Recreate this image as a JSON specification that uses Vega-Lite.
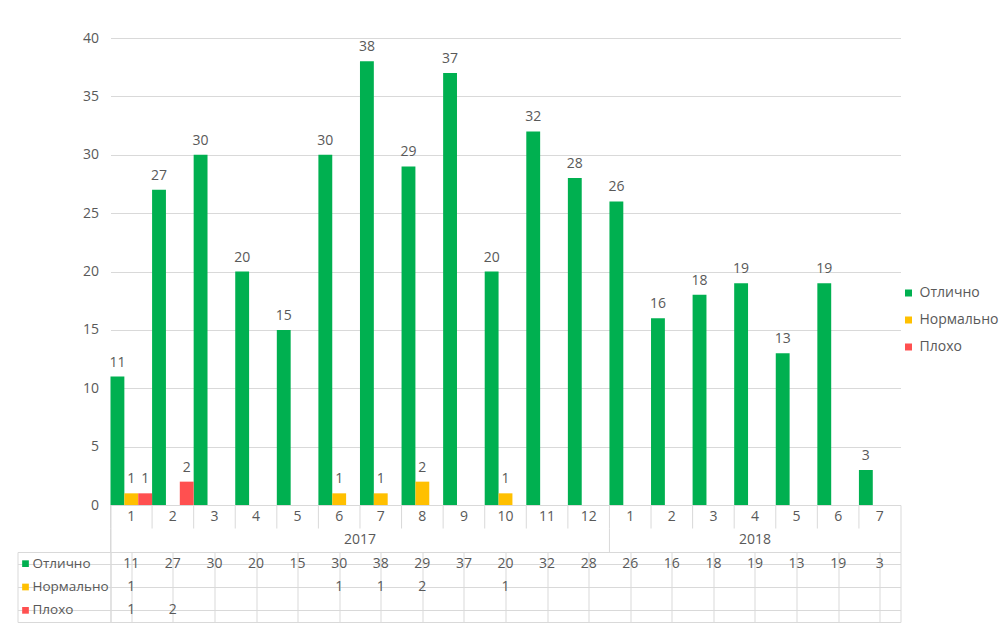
{
  "$schema": "https://vega.github.io/schema/vega-lite/v6.json",
  "padding": {"left": 16.5, "top": 17, "right": 0, "bottom": 0},
  "datasets": {
    "d": [
      {"key": "2017-1", "year": "2017", "month": "1", "series": "Отлично", "value": 11},
      {"key": "2017-2", "year": "2017", "month": "2", "series": "Отлично", "value": 27},
      {"key": "2017-3", "year": "2017", "month": "3", "series": "Отлично", "value": 30},
      {"key": "2017-4", "year": "2017", "month": "4", "series": "Отлично", "value": 20},
      {"key": "2017-5", "year": "2017", "month": "5", "series": "Отлично", "value": 15},
      {"key": "2017-6", "year": "2017", "month": "6", "series": "Отлично", "value": 30},
      {"key": "2017-7", "year": "2017", "month": "7", "series": "Отлично", "value": 38},
      {"key": "2017-8", "year": "2017", "month": "8", "series": "Отлично", "value": 29},
      {"key": "2017-9", "year": "2017", "month": "9", "series": "Отлично", "value": 37},
      {"key": "2017-10", "year": "2017", "month": "10", "series": "Отлично", "value": 20},
      {"key": "2017-11", "year": "2017", "month": "11", "series": "Отлично", "value": 32},
      {"key": "2017-12", "year": "2017", "month": "12", "series": "Отлично", "value": 28},
      {"key": "2018-1", "year": "2018", "month": "1", "series": "Отлично", "value": 26},
      {"key": "2018-2", "year": "2018", "month": "2", "series": "Отлично", "value": 16},
      {"key": "2018-3", "year": "2018", "month": "3", "series": "Отлично", "value": 18},
      {"key": "2018-4", "year": "2018", "month": "4", "series": "Отлично", "value": 19},
      {"key": "2018-5", "year": "2018", "month": "5", "series": "Отлично", "value": 13},
      {"key": "2018-6", "year": "2018", "month": "6", "series": "Отлично", "value": 19},
      {"key": "2018-7", "year": "2018", "month": "7", "series": "Отлично", "value": 3},
      {"key": "2017-1", "year": "2017", "month": "1", "series": "Нормально", "value": 1},
      {"key": "2017-6", "year": "2017", "month": "6", "series": "Нормально", "value": 1},
      {"key": "2017-7", "year": "2017", "month": "7", "series": "Нормально", "value": 1},
      {"key": "2017-8", "year": "2017", "month": "8", "series": "Нормально", "value": 2},
      {"key": "2017-10", "year": "2017", "month": "10", "series": "Нормально", "value": 1},
      {"key": "2017-1", "year": "2017", "month": "1", "series": "Плохо", "value": 1},
      {"key": "2017-2", "year": "2017", "month": "2", "series": "Плохо", "value": 2}
    ]
  },
  "columns": 2,
  "spacing": 0,
  "bounds": "flush",
  "align": "each",
  "config": {
    "view": {"stroke": null},
    "font": "Open Sans",
    "text": {"font": "Open Sans", "fontSize": 14, "color": "#595959"},
    "axis": {"labelFont": "Open Sans", "labelFontSize": 14, "labelColor": "#595959", "gridColor": "#d9d9d9"},
    "legend": {"labelFont": "Open Sans", "labelFontSize": 14, "labelColor": "#595959", "layout": {"right": {"anchor": "middle"}}}
  },
  "concat": [
    {"width": 93, "height": 467, "data": {"values": []}, "mark": "point"},
    {
      "width": 790,
      "height": 467,
      "data": {"name": "d"},
      "encoding": {
        "x": {"field": "key", "type": "nominal", "scale": {"domain": ["2017-1","2017-2","2017-3","2017-4","2017-5","2017-6","2017-7","2017-8","2017-9","2017-10","2017-11","2017-12","2018-1","2018-2","2018-3","2018-4","2018-5","2018-6","2018-7"], "paddingInner": 0, "paddingOuter": 0}, "axis": null},
        "xOffset": {"field": "series", "type": "nominal", "scale": {"domain": ["Отлично", "Нормально", "Плохо"], "paddingInner": 0, "paddingOuter": 0}},
        "y": {"field": "value", "type": "quantitative", "scale": {"domain": [0, 40], "nice": false}, "axis": {"values": [0, 5, 10, 15, 20, 25, 30, 35, 40], "title": ".", "titleAngle": 0, "titleAlign": "right", "titleBaseline": "top", "titleX": -20, "titleY": -21, "titleFontSize": 11, "titleOpacity": 0, "domain": false, "ticks": false, "labelPadding": 12, "grid": true}}
      },
      "layer": [
        {
          "mark": {"type": "bar"},
          "encoding": {
            "color": {"field": "series", "type": "nominal", "scale": {"domain": ["Отлично", "Нормально", "Плохо"], "range": ["#00b050", "#ffc000", "#ff5050"]}, "legend": {"title": null, "orient": "right", "symbolType": "square", "symbolSize": 49, "offset": 0, "rowPadding": 13, "labelOffset": 4}}
          }
        },
        {
          "mark": {"type": "text", "baseline": "middle", "dy": -14},
          "encoding": {"text": {"field": "value", "type": "quantitative"}}
        }
      ]
    },
    {"width": 93, "height": 47, "data": {"values": []}, "mark": "point"},
    {
      "width": 790,
      "height": 47,
      "view": {"stroke": "#d9d9d9"},
      "data": {"name": "d"},
      "transform": [{"filter": "datum.series === 'Отлично'"}],
      "encoding": {
        "x": {"field": "key", "type": "nominal", "scale": {"domain": ["2017-1","2017-2","2017-3","2017-4","2017-5","2017-6","2017-7","2017-8","2017-9","2017-10","2017-11","2017-12","2018-1","2018-2","2018-3","2018-4","2018-5","2018-6","2018-7"], "paddingInner": 0, "paddingOuter": 0}, "axis": null}
      },
      "layer": [
        {
          "mark": {"type": "text"},
          "encoding": {
            "y": {"datum": "m", "type": "nominal", "scale": {"domain": ["m", "y"], "paddingInner": 0, "paddingOuter": 0}, "axis": null},
            "text": {"field": "month"}
          }
        },
        {
          "mark": {"type": "tick", "orient": "vertical", "size": 23.5, "thickness": 1, "color": "#d9d9d9", "opacity": 1},
          "encoding": {
            "x": {"field": "key", "type": "nominal", "bandPosition": 0, "axis": null},
            "y": {"datum": "m", "type": "nominal", "axis": null}
          }
        },
        {
          "transform": [{"filter": "datum.month === '1'"}],
          "mark": {"type": "tick", "orient": "vertical", "size": 23.5, "thickness": 1, "color": "#d9d9d9", "opacity": 1},
          "encoding": {
            "x": {"field": "key", "type": "nominal", "bandPosition": 0, "axis": null},
            "y": {"datum": "y", "type": "nominal", "axis": null}
          }
        },
        {
          "transform": [{"filter": "datum.key === '2017-6'"}],
          "mark": {"type": "text"},
          "encoding": {
            "x": {"field": "key", "type": "nominal", "bandPosition": 1, "axis": null},
            "y": {"datum": "y", "type": "nominal", "axis": null},
            "text": {"field": "year"}
          }
        },
        {
          "transform": [{"filter": "datum.key === '2018-4'"}],
          "mark": {"type": "text"},
          "encoding": {
            "y": {"datum": "y", "type": "nominal", "axis": null},
            "text": {"field": "year"}
          }
        }
      ]
    },
    {
      "width": 93,
      "height": 70,
      "view": {"stroke": "#d9d9d9"},
      "data": {"name": "d"},
      "transform": [{"filter": "datum.key === '2017-1'"}],
      "encoding": {
        "y": {"field": "series", "type": "nominal", "scale": {"domain": ["Отлично", "Нормально", "Плохо"], "paddingInner": 0, "paddingOuter": 0}, "axis": {"grid": true, "bandPosition": 0, "labels": false, "ticks": false, "domain": false, "title": null}}
      },
      "layer": [
        {
          "mark": {"type": "square", "size": 45, "opacity": 1, "xOffset": -38.5},
          "encoding": {"color": {"field": "series", "type": "nominal", "scale": {"domain": ["Отлично", "Нормально", "Плохо"], "range": ["#00b050", "#ffc000", "#ff5050"]}, "legend": null}}
        },
        {
          "mark": {"type": "text", "align": "left", "dx": -31.5, "fontSize": 13.5},
          "encoding": {"text": {"field": "series"}}
        }
      ]
    },
    {
      "width": 790,
      "height": 70,
      "view": {"stroke": "#d9d9d9"},
      "data": {"name": "d"},
      "mark": {"type": "text"},
      "encoding": {
        "x": {"field": "key", "type": "nominal", "scale": {"domain": ["2017-1","2017-2","2017-3","2017-4","2017-5","2017-6","2017-7","2017-8","2017-9","2017-10","2017-11","2017-12","2018-1","2018-2","2018-3","2018-4","2018-5","2018-6","2018-7"], "paddingInner": 0, "paddingOuter": 0}, "axis": {"grid": true, "bandPosition": 0, "labels": false, "ticks": false, "domain": false, "title": null}},
        "y": {"field": "series", "type": "nominal", "scale": {"domain": ["Отлично", "Нормально", "Плохо"], "paddingInner": 0, "paddingOuter": 0}, "axis": {"grid": true, "bandPosition": 0, "labels": false, "ticks": false, "domain": false, "title": null}},
        "text": {"field": "value", "type": "quantitative"}
      }
    }
  ]
}
